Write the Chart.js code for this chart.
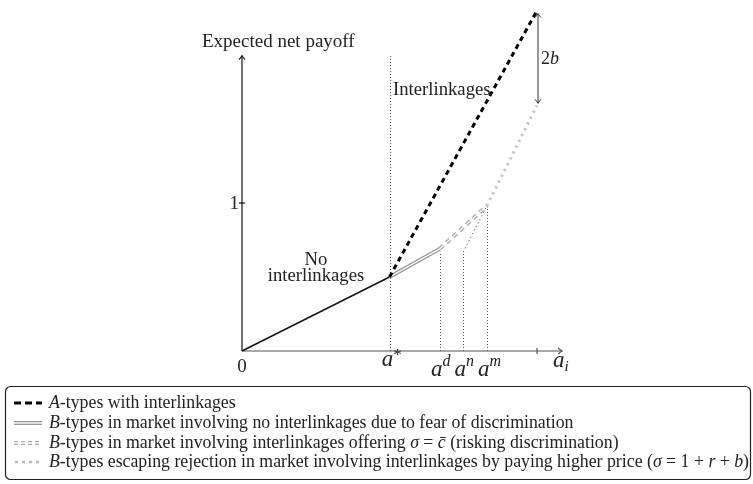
<!DOCTYPE html>
<html>
<head>
<meta charset="utf-8">
<script src="https://cdn.jsdelivr.net/npm/chart.js@4.4.0/dist/chart.umd.min.js"></script>
<style>
    html, body { margin: 0; padding: 0; background: #fff; }
</style>
</head>
<body>
<canvas id="chart" width="753" height="484"></canvas>
<script>
// curves: [a_i, expected net payoff]
var baseLine = [[0, 0], [0.5, 0.5]];
var aTypes = [[0.5, 0.5], [1.0, 2.3]];
var bNoLink = [[0.5, 0.5], [0.67, 0.69]];
var bLink = [[0.67, 0.69], [0.83, 0.98]];
var bEscape = [[0.83, 0.98], [1.0, 1.66]];
var bPath = [[0.75, 0.67], [0.83, 0.98]];

// marks on the a_i axis and height of their dotted guides
var xMarkNames = ['*', 'd', 'n', 'm'];
var xMarkVals = [0.5, 0.67, 0.75, 0.83];
var xMarkTops = [2.0, 0.67, 0.67, 0.98];
var xTicks = [1];
var yTicks = [1];
var xEnd = 1.085;
var yEnd = 1.995;
var gapTop = 2.3, gapBottom = 1.66;   // the 2b gap at a_i = 1

var legendRows = [
    [['A', 1], ['-types with interlinkages', 0]],
    [['B', 1], ['-types in market involving no interlinkages due to fear of discrimination', 0]],
    [['B', 1], ['-types in market involving interlinkages offering ', 0], ['σ', 1], [' = ', 0], ['c̄', 1], [' (risking discrimination)', 0]],
    [['B', 1], ['-types escaping rejection in market involving interlinkages by paying higher price (', 0], ['σ', 1], [' = 1 + ', 0], ['r', 1], [' + ', 0], ['b', 1], [')', 0]]
];

function pts(arr) {
    return arr.map(function (p) { return {x: p[0], y: p[1]}; });
}

var SERIF = '"Liberation Serif", "DejaVu Serif", serif';

function richText(ctx, x, y, parts, size) {
    parts.forEach(function (p) {
        ctx.font = (p[1] ? 'italic ' : '') + size + 'px ' + SERIF;
        ctx.fillText(p[0], x, y);
        x += ctx.measureText(p[0]).width;
    });
    return x;
}

function arrowHead(ctx, x, y, dir) {
    // small open head like tikz "->"
    ctx.beginPath();
    if (dir == 'up') {
        ctx.moveTo(x - 3, y + 4); ctx.quadraticCurveTo(x - 0.5, y + 1, x, y); ctx.quadraticCurveTo(x + 0.5, y + 1, x + 3, y + 4);
    } else if (dir == 'down') {
        ctx.moveTo(x - 3, y - 4); ctx.quadraticCurveTo(x - 0.5, y - 1, x, y); ctx.quadraticCurveTo(x + 0.5, y - 1, x + 3, y - 4);
    } else {
        ctx.moveTo(x - 4, y - 3); ctx.quadraticCurveTo(x - 1, y - 0.5, x, y); ctx.quadraticCurveTo(x - 1, y + 0.5, x - 4, y + 3);
    }
    ctx.stroke();
}

function sampleLine(ctx, x1, x2, y, color, width, dash) {
    ctx.save();
    ctx.strokeStyle = color;
    ctx.lineWidth = width;
    ctx.setLineDash(dash);
    ctx.beginPath();
    ctx.moveTo(x1, y);
    ctx.lineTo(x2, y);
    ctx.stroke();
    ctx.restore();
}

var axesPlugin = {
    id: 'axesPlugin',
    beforeDatasetsDraw: function (chart) {
        var ctx = chart.ctx;
        var xs = chart.scales.x, ys = chart.scales.y;
        var x0 = xs.getPixelForValue(0), y0 = ys.getPixelForValue(0);
        ctx.save();

        // dotted guides
        ctx.strokeStyle = '#333';
        ctx.lineWidth = 0.8;
        ctx.setLineDash([1, 2]);
        for (var i = 0; i < xMarkVals.length; i++) {
            var px = Math.round(xs.getPixelForValue(xMarkVals[i])) + 0.5;
            ctx.beginPath();
            ctx.moveTo(px, y0);
            ctx.lineTo(px, ys.getPixelForValue(xMarkTops[i]));
            ctx.stroke();
        }
        ctx.setLineDash([]);

        // axes
        var xe = xs.getPixelForValue(xEnd), ye = ys.getPixelForValue(yEnd);
        ctx.strokeStyle = '#555';
        ctx.lineWidth = 1.2;
        ctx.beginPath();
        ctx.moveTo(x0, y0); ctx.lineTo(xe, y0);
        ctx.stroke();
        arrowHead(ctx, xe, y0, 'right');
        xTicks.forEach(function (t) {
            var p = xs.getPixelForValue(t);
            ctx.beginPath(); ctx.moveTo(p, y0 - 3); ctx.lineTo(p, y0 + 3); ctx.stroke();
        });

        ctx.strokeStyle = '#111';
        ctx.beginPath();
        ctx.moveTo(x0, y0); ctx.lineTo(x0, ye);
        ctx.stroke();
        arrowHead(ctx, x0, ye, 'up');
        yTicks.forEach(function (t) {
            var p = ys.getPixelForValue(t);
            ctx.beginPath(); ctx.moveTo(x0 - 3, p); ctx.lineTo(x0 + 3, p); ctx.stroke();
        });
        ctx.restore();
    },
    afterDraw: function (chart) {
        var ctx = chart.ctx;
        var xs = chart.scales.x, ys = chart.scales.y;
        var x0 = xs.getPixelForValue(0), y0 = ys.getPixelForValue(0);
        ctx.save();
        ctx.fillStyle = '#222';
        ctx.textBaseline = 'alphabetic';

        // 2b gap arrow
        var gx = xs.getPixelForValue(1) + 1;
        var gt = ys.getPixelForValue(gapTop) + 3, gb = ys.getPixelForValue(gapBottom) - 2;
        ctx.strokeStyle = '#333';
        ctx.lineWidth = 1;
        ctx.beginPath(); ctx.moveTo(gx, gt); ctx.lineTo(gx, gb); ctx.stroke();
        arrowHead(ctx, gx, gt, 'up');
        arrowHead(ctx, gx, gb, 'down');
        richText(ctx, gx + 3, 64, [['2', 0], ['b', 1]], 18);

        // axis texts
        ctx.textAlign = 'left';
        richText(ctx, 202, 47, [['Expected net payoff', 0]], 19);
        richText(ctx, 393, 95, [['Interlinkages', 0]], 18.7);
        ctx.textAlign = 'center';
        ctx.font = '18.7px ' + SERIF;
        ctx.fillText('No', 316, 265);
        ctx.fillText('interlinkages', 316, 281);
        ctx.font = '19px ' + SERIF;
        ctx.fillText('0', x0, 372);
        ctx.textAlign = 'right';
        yTicks.forEach(function (t) {
            ctx.fillText(String(t), x0 - 3, ys.getPixelForValue(t) + 6);
        });

        // a* a^d a^n a^m
        ctx.textAlign = 'left';
        for (var i = 0; i < xMarkVals.length; i++) {
            var px = xs.getPixelForValue(xMarkVals[i]);
            ctx.font = 'italic 23px ' + SERIF;
            var w = ctx.measureText('a').width;
            var sx = (i == 0) ? px - w / 2 - 2 : px - w / 2 - 3;
            var base = (i == 0) ? 366 : 376;
            ctx.fillText('a', sx, base);
            if (i == 0) {
                ctx.font = '17px ' + SERIF;
                ctx.fillText('*', sx + w, base - 6);
            } else {
                ctx.font = 'italic 16px ' + SERIF;
                ctx.fillText(xMarkNames[i], sx + w, base - 10);
            }
        }
        ctx.font = 'italic 23px ' + SERIF;
        ctx.fillText('a', 553, 367);
        var aw = ctx.measureText('a').width;
        ctx.font = 'italic 15px ' + SERIF;
        ctx.fillText('i', 553 + aw, 371);

        // legend
        var bx = 5.5, by = 386.5, bw = 745, bh = 93;
        ctx.strokeStyle = '#222';
        ctx.lineWidth = 1.2;
        ctx.beginPath();
        ctx.roundRect(bx, by, bw, bh, 5);
        ctx.stroke();
        var rowY = [403, 423, 443, 462];
        var sx1 = 14, sx2 = 42;
        sampleLine(ctx, sx1, sx2, rowY[0], '#000', 3, [7, 4]);
        sampleLine(ctx, sx1, sx2, rowY[1], '#999', 4, []);
        sampleLine(ctx, sx1, sx2, rowY[1], '#fff', 1.3, []);
        sampleLine(ctx, sx1, sx2, rowY[2], '#aaa', 4, [4, 3]);
        sampleLine(ctx, sx1, sx2, rowY[2], '#fff', 1.3, [4, 3]);
        sampleLine(ctx, sx1 + 1, sx2, rowY[3], '#bbb', 2.5, [3, 4]);
        ctx.fillStyle = '#222';
        for (var r = 0; r < legendRows.length; r++) {
            richText(ctx, 49, rowY[r] + 5, legendRows[r], 17.8);
        }
        ctx.restore();
    }
};

var xmin = -242 / 295, xmax = xmin + 753 / 295;
var ymax = 351 / 148, ymin = ymax - 484 / 148;

new Chart(document.getElementById('chart').getContext('2d'), {
    type: 'scatter',
    data: {
        datasets: [
            {data: pts(baseLine), borderColor: '#111', borderWidth: 1.4, order: 3},
            {data: pts(bNoLink), borderColor: '#999', borderWidth: 4, order: 2},
            {data: pts(bNoLink), borderColor: '#fff', borderWidth: 1.3, order: 1},
            {data: pts(bLink), borderColor: '#aaa', borderWidth: 4, borderDash: [5, 4], order: 2},
            {data: pts(bLink), borderColor: '#fff', borderWidth: 1.3, borderDash: [5, 4], order: 1},
            {data: pts(bEscape), borderColor: '#c8c8c8', borderWidth: 3, borderDash: [2.5, 4], order: 2},
            {data: pts(bPath), borderColor: '#222', borderWidth: 0.9, borderDash: [1, 3], order: 2},
            {data: pts(aTypes), borderColor: '#000', borderWidth: 3, borderDash: [5, 4], order: 0}
        ]
    },
    options: {
        responsive: false,
        animation: false,
        devicePixelRatio: 1,
        layout: {padding: 0},
        showLine: true,
        elements: {point: {radius: 0, hoverRadius: 0}, line: {tension: 0, fill: false}},
        plugins: {legend: {display: false}, tooltip: {enabled: false}},
        scales: {
            x: {type: 'linear', display: false, min: xmin, max: xmax},
            y: {type: 'linear', display: false, min: ymin, max: ymax}
        }
    },
    plugins: [axesPlugin]
});
</script>
</body>
</html>
